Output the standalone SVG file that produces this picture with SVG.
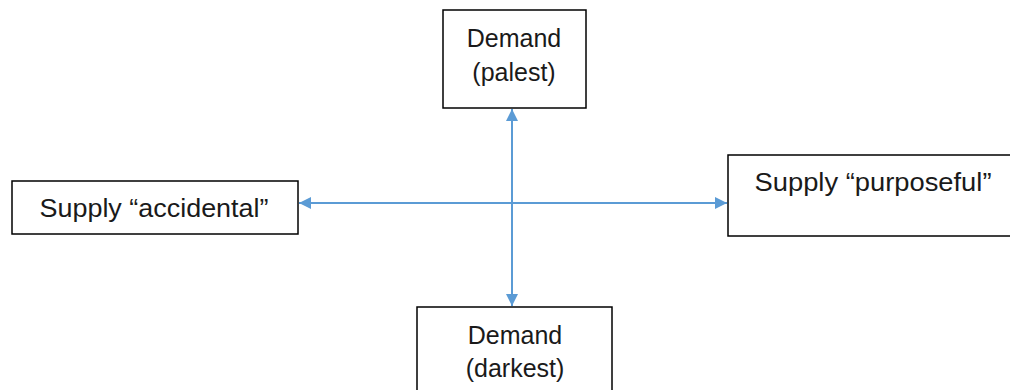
<svg xmlns="http://www.w3.org/2000/svg" width="1010" height="390" viewBox="0 0 1010 390">
<style>
.box{fill:#fff;stroke:#000;stroke-width:1.5}
.t{font-family:"Liberation Sans",Arial,sans-serif;font-size:25px;fill:#1a1a1a;text-anchor:middle}
.c{stroke:#5B9BD5;stroke-width:2;fill:none;marker-start:url(#a);marker-end:url(#a)}
</style>
<defs>
<marker id="a" viewBox="0 0 10 10" refX="10" refY="5" markerWidth="6" markerHeight="6" orient="auto-start-reverse" markerUnits="strokeWidth">
<path d="M0,0L10,5L0,10z" fill="#5B9BD5"/>
</marker>
</defs>
<rect width="1010" height="390" fill="#fff"/>
<g id="connectors">
<line class="c" x1="512" y1="109" x2="512" y2="306"/>
<line class="c" x1="299" y1="203" x2="727" y2="203"/>
</g>
<g id="demand-palest">
<rect class="box" x="443" y="10" width="143" height="98"/>
<text class="t" x="514" y="47">Demand</text>
<text class="t" x="514" y="81">(palest)</text>
</g>
<g id="supply-accidental">
<rect class="box" x="12" y="181" width="286" height="53"/>
<text class="t" x="154" y="217" textLength="229" lengthAdjust="spacingAndGlyphs">Supply “accidental”</text>
</g>
<g id="supply-purposeful">
<rect class="box" x="728" y="155" width="290" height="81"/>
<text class="t" x="873" y="191" textLength="237" lengthAdjust="spacingAndGlyphs">Supply “purposeful”</text>
</g>
<g id="demand-darkest">
<rect class="box" x="417" y="307" width="195" height="100"/>
<text class="t" x="515" y="344">Demand</text>
<text class="t" x="515" y="377">(darkest)</text>
</g>
</svg>
